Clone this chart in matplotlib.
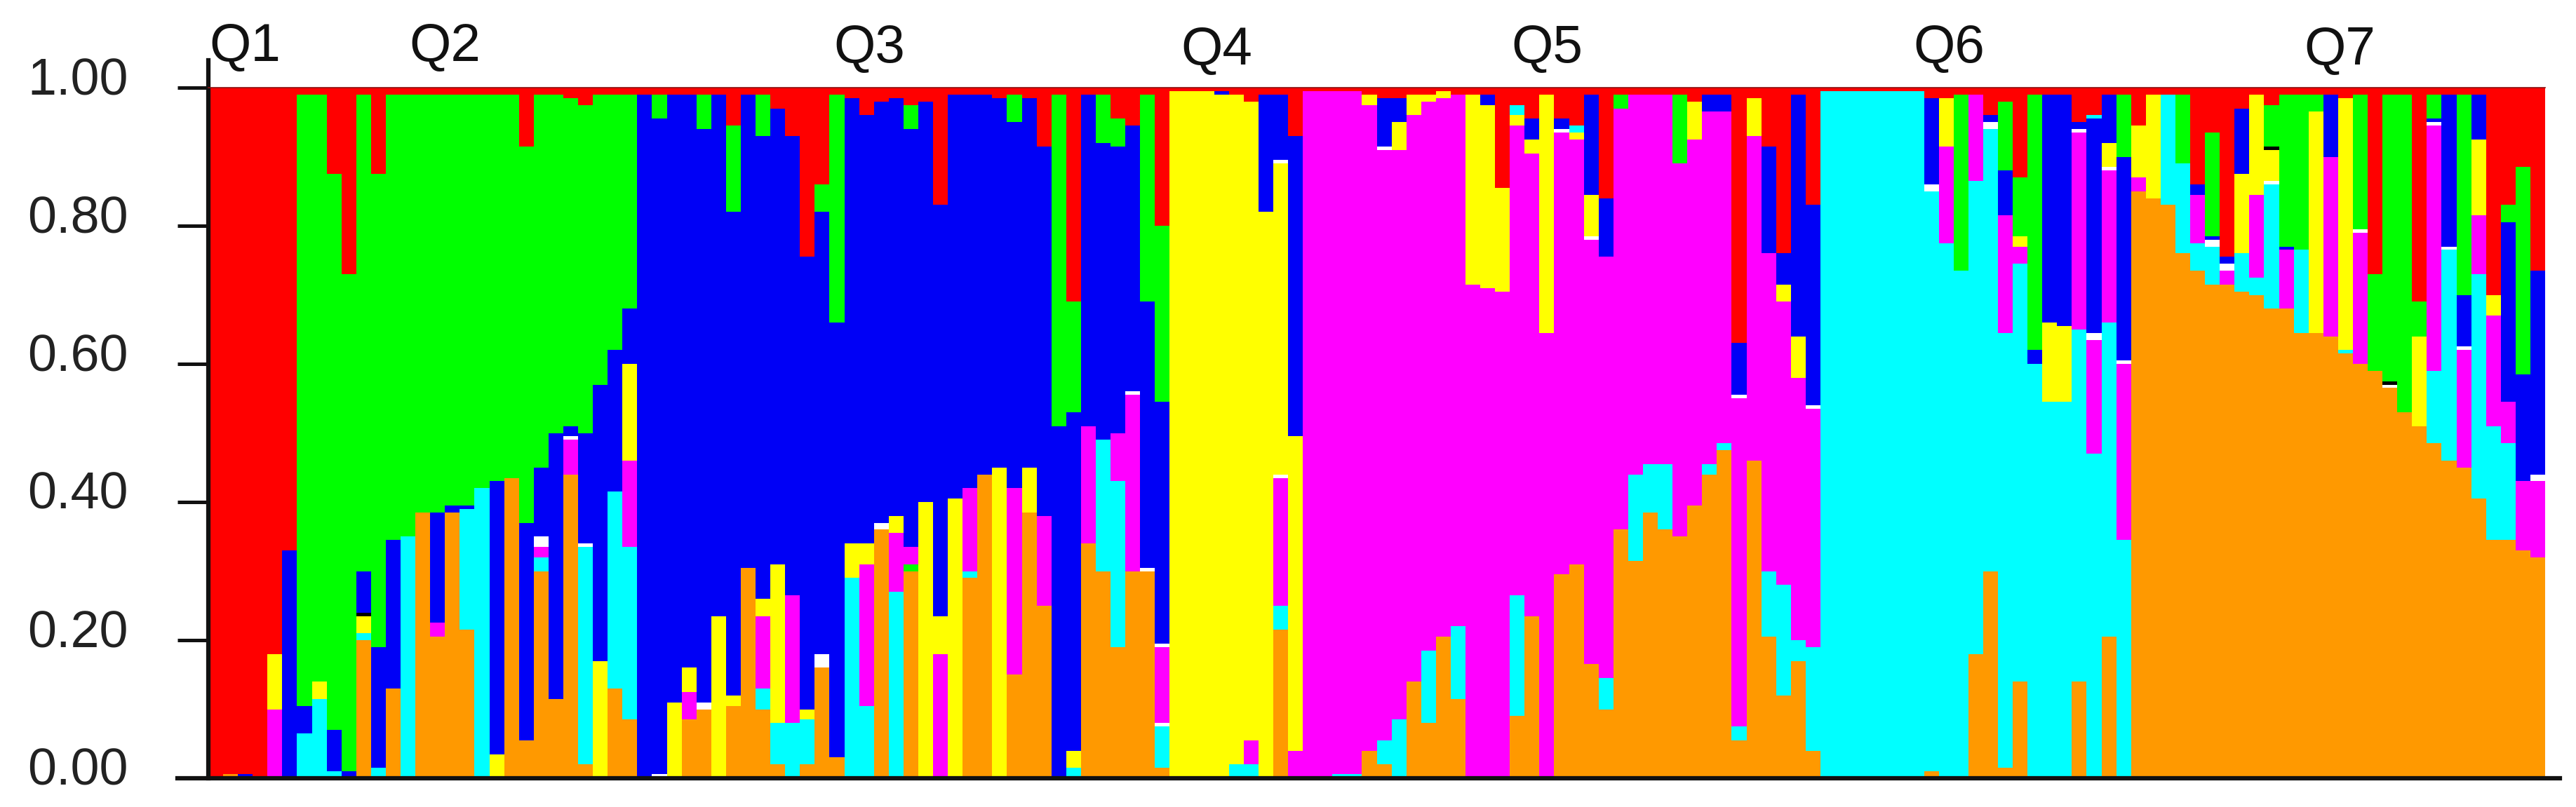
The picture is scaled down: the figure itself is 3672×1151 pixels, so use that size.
import matplotlib
matplotlib.use("Agg")
import matplotlib.pyplot as plt
from matplotlib.transforms import ScaledTranslation

# Each string is one individual, read bottom to top: cluster letter + upper boundary of its segment
Q1 = ["R1", "O.006 R1", "B.006 R1", "R1", "M.10 Y.18 R1", "B.33 R1"]
Q2 = [
    "C.065 B.105 G.99 R1", "C.115 Y.14 G.99 R1", "C.01 B.07 G.875 R1", "B.01 G.73 R1",
    "O.20 C.21 Y.235 K.24 B.30 G.99 R1", "C.015 B.19 G.875 R1", "O.13 B.345 G.99 R1",
    "C.35 G.99 R1", "O.385 G.99 R1", "O.205 M.225 B.385 G.99 R1", "O.385 B.395 G.99 R1",
    "O.215 C.39 B.395 G.99 R1", "C.42 G.99 R1", "Y.035 B.43 G.99 R1", "O.435 G.99 R1",
    "O.055 B.37 G.915 R1", "O.30 C.32 M.335 W.35 B.45 G.99 R1", "O.115 B.50 G.99 R1",
    "O.44 M.49 W.495 B.51 G.985 R1", "O.02 C.335 W.34 B.50 G.975 R1", "Y.17 B.57 G.99 R1",
    "O.13 C.415 B.62 G.99 R1", "O.085 C.335 M.46 Y.60 B.68 G.99 R1",
]
Q3 = [
    "B.99 R1", "W.006 B.955 G.99 R1", "Y.11 B.99 R1", "O.085 M.125 Y.16 B.99 R1",
    "O.10 W.11 B.94 G.99 R1", "Y.235 B.99 R1", "O.105 Y.12 B.82 G.945 R1", "O.305 B.99 R1",
    "O.10 C.13 M.235 Y.26 B.93 G.99 R1", "O.02 C.08 Y.31 B.97 R1", "C.08 M.265 B.93 R1",
    "O.02 C.085 Y.10 B.755 R1", "O.16 W.18 B.82 G.86 R1", "O.03 B.66 G.99 R1",
    "C.29 Y.34 B.985 R1", "C.105 M.31 Y.34 B.96 R1", "O.36 W.37 B.98 R1",
    "C.27 M.355 Y.38 B.985 R1", "O.30 G.31 M.335 B.94 G.975 R1", "Y.40 B.98 R1",
    "M.18 Y.235 B.83 R1", "Y.405 B.99 R1", "O.29 C.30 M.42 B.99 R1", "O.44 B.99 R1",
    "Y.45 B.985 R1", "O.15 M.42 B.95 G.99 R1", "O.385 Y.45 B.985 R1", "O.25 M.38 B.915 R1",
    "B.51 G.99 R1", "C.015 Y.04 B.53 G.69 R1", "O.34 M.51 B.99 R1",
    "O.30 C.49 B.92 G.99 R1", "O.19 C.43 M.50 B.915 G.955 R1", "O.30 M.555 W.56 B.945 R1",
    "O.30 W.305 B.69 G.99 R1", "O.015 C.075 W.08 M.19 W.195 B.545 G.80 R1",
]
Q4 = [
    "Y.995 R1", "Y.995 R1", "Y.995 R1", "Y.99 B.995 R1", "C.02 Y.99 R1",
    "C.02 M.055 Y.98 R1", "Y.82 B.99 R1", "O.215 C.25 M.435 W.44 Y.89 W.895 B.99 R1",
    "M.04 Y.495 B.93 R1",
]
Q5 = [
    "M.995 R1", "M.995 R1", "C.006 M.995 R1", "C.006 M.995 R1", "O.04 M.975 Y.99 R1",
    "O.02 C.055 M.91 W.915 B.985 R1", "C.085 M.91 Y.95 B.985 R1", "O.14 M.96 Y.99 R1",
    "O.08 C.185 M.98 Y.99 R1", "O.205 M.985 Y.995 R1", "O.115 C.22 M.99 R1",
    "M.715 Y.99 R1", "M.71 Y.975 B.99 R1", "M.705 Y.855 R1",
    "O.09 C.265 M.945 Y.96 C.975 R1", "O.235 M.905 Y.925 B.955 R1", "M.645 Y.99 R1",
    "O.295 M.935 W.94 B.955 R1", "O.31 M.925 Y.935 C.945 R1", "O.165 M.78 W.785 Y.845 B.99 R1",
    "O.10 C.145 M.755 B.84 R1", "O.36 M.97 G.99 R1", "O.315 C.44 M.99 R1", "O.385 C.455 M.99 R1",
    "O.36 C.455 M.99 R1", "O.35 M.89 G.99 R1", "O.395 M.925 Y.98 R1", "O.44 C.455 M.965 B.99 R1",
    "O.475 C.485 M.965 B.99 R1", "O.055 C.075 M.55 W.555 B.63 R1", "O.46 M.93 Y.985 R1",
    "O.205 C.30 M.76 B.915 R1", "O.12 C.28 M.69 Y.715 B.76 R1", "O.17 C.20 M.58 Y.64 B.99 R1",
    "O.04 C.19 M.535 W.54 B.83 R1",
]
Q6 = [
    "C.995 R1", "C.995 R1", "C.995 R1", "C.995 R1", "C.995 R1", "C.995 R1", "C.995 R1",
    "O.01 C.85 W.86 B.985 R1", "C.775 M.915 Y.985 R1", "C.735 G.99 R1", "O.18 C.865 M.99 R1",
    "O.30 C.94 W.95 B.96 R1", "O.015 C.645 M.815 B.88 G.98 R1", "O.14 C.745 M.77 Y.785 G.87 R1",
    "C.60 B.62 G.99 R1", "C.545 Y.66 B.99 R1", "C.545 Y.655 B.99 R1", "O.14 C.65 M.935 W.94 B.95 R1",
    "C.47 M.635 W.645 B.955 C.96 R1", "O.205 C.66 M.88 W.885 Y.92 B.99 R1", "C.345 M.60 W.605 B.90 G.99 R1",
]
Q7 = [
    "O.85 M.87 Y.945 R1", "O.84 Y.99 R1", "O.83 C.99 R1", "O.76 C.89 G.99 R1",
    "O.735 C.775 M.845 B.86 R1", "O.715 C.77 W.78 B.785 G.935 R1", "O.715 M.735 W.745 B.755 R1",
    "O.705 C.76 Y.875 B.97 R1", "O.70 C.725 M.845 Y.99 R1", "O.68 C.86 W.865 Y.91 K.915 G.975 R1",
    "O.68 M.765 B.77 G.99 R1", "O.645 C.765 G.99 R1", "O.645 Y.965 G.99 R1", "O.64 M.90 B.99 R1",
    "O.615 C.62 Y.985 R1", "O.60 M.79 W.795 G.99 R1", "O.59 G.73 R1", "O.565 W.57 K.575 G.99 R1",
    "O.53 G.99 R1", "O.51 Y.64 G.69 R1", "O.485 C.59 M.945 W.95 B.955 G.99 R1",
    "O.46 C.765 W.77 B.99 R1", "O.45 M.62 W.625 B.70 G.99 R1", "O.405 C.73 M.815 Y.925 B.99 R1",
    "O.345 C.51 M.67 Y.70 R1", "O.345 C.485 M.545 B.805 G.83 R1", "O.33 M.43 B.585 G.885 R1",
    "O.32 M.43 W.44 B.735 R1",
]
groups = [Q1, Q2, Q3, Q4, Q5, Q6, Q7]

group_labels = ["Q1", "Q2", "Q3", "Q4", "Q5", "Q6", "Q7"]
label_x = [2.5, 16.0, 44.7, 68.2, 90.5, 117.7, 144.1]
label_y = [1.059, 1.059, 1.057, 1.054, 1.057, 1.057, 1.054]

y_ticks = [0.0, 0.2, 0.4, 0.6, 0.8, 1.0]
y_tick_labels = ["0.00", "0.20", "0.40", "0.60", "0.80", "1.00"]

colors = {"R": "#ff0000", "G": "#00ff00", "B": "#0000f6", "Y": "#ffff00",
          "M": "#ff00ff", "C": "#00ffff", "O": "#ff9900", "W": "#ffffff", "K": "#000000"}

columns = [col for g in groups for col in g]

# collect the segments per cluster so each colour is one bar call
parts = {k: ([], [], []) for k in colors}
for i, col in enumerate(columns):
    bottom = 0.0
    for seg in col.split():
        top = float(seg[1:])
        xs, heights, bottoms = parts[seg[0]]
        xs.append(i)
        heights.append(top - bottom)
        bottoms.append(bottom)
        bottom = top

fig = plt.figure(figsize=(36.72, 11.51), dpi=100)
ax = fig.add_axes([297 / 3672, 1 - 1110 / 1151, (3628 - 297) / 3672, 985 / 1151])

for k, (xs, heights, bottoms) in parts.items():
    ax.bar(xs, heights, bottom=bottoms, width=1.0, align="edge", color=colors[k],
           linewidth=0, antialiased=False)

ax.set_xlim(0, len(columns))
ax.set_ylim(0, 1)
ax.set_xticks([])
ax.set_yticks(y_ticks)
ax.set_yticklabels(y_tick_labels, fontsize=53, family="Liberation Sans", color="#222222")
ax.tick_params(axis="y", length=32, width=3.6, pad=50, color="#111111")

ax.spines["right"].set_visible(False)
ax.spines["top"].set_linewidth(1.2)
ax.spines["top"].set_color("#8a1010")
ax.spines["left"].set_linewidth(4.5)
ax.spines["left"].set_bounds(0, 1.04)
ax.spines["bottom"].set_linewidth(4.5)
ax.spines["bottom"].set_bounds(-2.1, 159)
ax.spines["left"].set_color("#111111")
ax.spines["bottom"].set_color("#111111")

# tick labels sit a little above their ticks in the original
shift = ScaledTranslation(0, 17 / 100, fig.dpi_scale_trans)
for lab in ax.get_yticklabels():
    lab.set_transform(lab.get_transform() + shift)

for name, x, y in zip(group_labels, label_x, label_y):
    ax.text(x, y, name, fontsize=55, family="Liberation Sans", ha="center", va="center",
            color="#111111", clip_on=False)

fig.savefig("out.png", dpi=100)
